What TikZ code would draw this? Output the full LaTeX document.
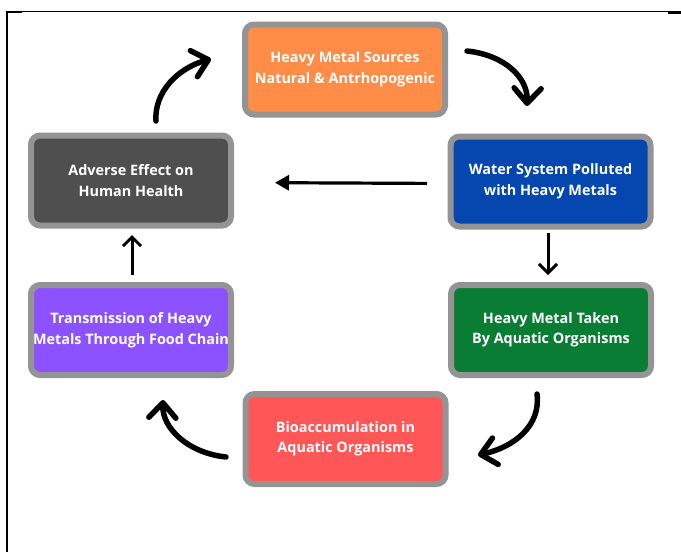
\documentclass[tikz,border=0pt]{standalone}
\usepackage{fontspec}
\setmainfont{Open Sans}
\usetikzlibrary{arrows.meta}
\definecolor{cOrange}{HTML}{FF8C47}
\definecolor{cBlue}{HTML}{0547AE}
\definecolor{cGreen}{HTML}{0A7D35}
\definecolor{cRed}{HTML}{FF5757}
\definecolor{cPurple}{HTML}{8C52FF}
\definecolor{cDark}{HTML}{4F4F4F}
\definecolor{cRim}{HTML}{949494}
\begin{document}
\begin{tikzpicture}[x=1pt,y=-1pt,
  stage/.style={draw=cRim, line width=6pt, rounded corners=9pt,
    minimum width=200pt, minimum height=90pt, inner sep=0pt,
    text=white, align=center,
    execute at begin node={\rule{0pt}{15pt}},
    font=\fontsize{14.4}{20.5}\selectfont\bfseries},
  flow/.style={line width=3.2pt, -{Triangle[length=14pt,width=15pt]}},
  uparrow/.style={line width=3pt, -{Straight Barb[length=9pt,width=18pt]}},
  swoop/.style={line width=5.5pt, line cap=round,
    -{Straight Barb[length=15pt,width=27pt,round]}},
]
\useasboundingbox (0,0) rectangle (681,552);

% page frame
\draw[line width=1.3pt] (7,11.5) -- (681,11.5);
\draw[line width=2pt] (7,10.5) -- (7,552);
\draw[line width=2.6pt] (6,12) -- (22,12);
\draw[line width=2.6pt] (668,12.2) -- (681,12.2);

% stages of the cycle
\node[stage, fill=cOrange] (src)     at (345,69.5)  {Heavy Metal Sources\\Natural \& Antrhopogenic};
\node[stage, fill=cBlue]   (water)   at (550.5,181.5) {Water System Polluted\\with Heavy Metals};
\node[stage, fill=cGreen]  (taken)   at (551,330)   {Heavy Metal Taken\\By Aquatic Organisms};
\node[stage, fill=cRed]    (bio)     at (345.5,439) {Bioaccumulation in\\Aquatic Organisms};
\node[stage, fill=cPurple] (trans)   at (131,330)   {Transmission of Heavy\\Metals Through Food Chain};
\node[stage, fill=cDark]   (adverse) at (131,180.5) {Adverse Effect on\\Human Health};

% straight connectors
\draw[flow, shorten <=20.5pt, shorten >=41pt]
  ([yshift=-2pt]water.west) -- ([yshift=-2pt]adverse.east);
\draw[uparrow, shorten <=3.5pt, shorten >=7pt]
  ([xshift=-2.5pt]water.south) -- ([xshift=-3pt]taken.north);
\draw[uparrow, shorten <=7pt, shorten >=6.5pt]
  ([xshift=1pt]trans.north) -- ([xshift=1pt]adverse.south);

% curved hand-drawn connectors
\coordinate (tlA) at (156,121);  \coordinate (tlB) at (211,59);
\coordinate (trA) at (467,51);   \coordinate (trB) at (527,106);
\coordinate (brA) at (537,394);  \coordinate (brB) at (478,455);
\coordinate (blA) at (226,457);  \coordinate (blB) at (163,400);
\draw[swoop] (tlA) .. controls (154,92) and (178,68) .. (tlB);
\draw[swoop] (trA) .. controls (505,55) and (528,78) .. (trB);
\draw[swoop] (brA) .. controls (541,425) and (515,447) .. (brB);
\draw[swoop] (blA) .. controls (188,453) and (162,428) .. (blB);
\end{tikzpicture}
\end{document}
